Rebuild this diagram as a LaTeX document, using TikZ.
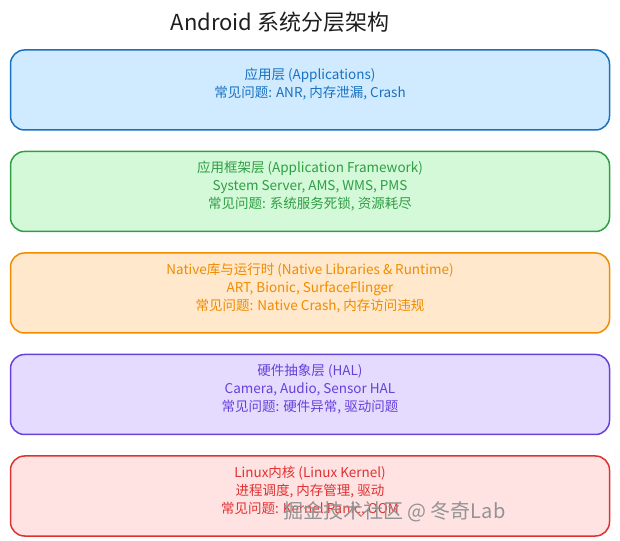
\documentclass[tikz,border=0pt]{standalone}
\usepackage{fontspec}
\setmainfont{Noto Sans CJK SC}
\usetikzlibrary{positioning}
\definecolor{appline}{HTML}{1971C2}\definecolor{appfill}{HTML}{D0EBFF}
\definecolor{fwline}{HTML}{2F9E44}\definecolor{fwfill}{HTML}{D3F9D8}
\definecolor{natline}{HTML}{F08C00}\definecolor{natfill}{HTML}{FFE8CC}
\definecolor{halline}{HTML}{6741D9}\definecolor{halfill}{HTML}{E5DBFF}
\definecolor{krnline}{HTML}{E03131}\definecolor{krnfill}{HTML}{FFE3E3}
\definecolor{ink}{HTML}{1E1E1E}

\begin{document}
\begin{tikzpicture}[x=1pt,y=1pt,
	layer/.style={draw=#1line, fill=#1fill, line width=1.5pt,
		rounded corners=14pt, minimum width=599pt, minimum height=80pt},
	info/.style={text=#1line, align=center, font=\fontsize{13.5}{18}\selectfont},
	title/.style={text=ink, font=\fontsize{22}{26}\selectfont}]
	\useasboundingbox (0,0) rectangle (620,540);
	\node[title] (t) at (280,518) {Android 系统分层架构};
	\node[layer=app] (app) at (310,450) {};
	\node[layer=fw, below=20pt of app] (fw) {};
	\node[layer=nat, below=20pt of fw] (nat) {};
	\node[layer=hal, below=20pt of nat] (hal) {};
	\node[layer=krn, below=20pt of hal] (krn) {};
	\node[info=app] (appt) at ([yshift=6pt]app.center) {应用层 (Applications)\\常见问题: ANR, 内存泄漏, Crash};
	\node[info=fw] (fwt) at ([yshift=5pt]fw.center) {应用框架层 (Application Framework)\\System Server, AMS, WMS, PMS\\常见问题: 系统服务死锁, 资源耗尽};
	\node[info=nat] (natt) at ([yshift=5pt]nat.center) {Native库与运行时 (Native Libraries \& Runtime)\\ART, Bionic, SurfaceFlinger\\常见问题: Native Crash, 内存访问违规};
	\node[info=hal] (halt) at ([yshift=5pt]hal.center) {硬件抽象层 (HAL)\\Camera, Audio, Sensor HAL\\常见问题: 硬件异常, 驱动问题};
	\node[info=krn] (krnt) at ([yshift=5pt]krn.center) {Linux内核 (Linux Kernel)\\进程调度, 内存管理, 驱动\\常见问题: Kernel Panic, OOM};
	% watermark
	\node[anchor=east, text=gray!85, font=\fontsize{20}{24}\selectfont] (wm) at (509,28) {掘金技术社区 @ 冬奇Lab};
\end{tikzpicture}
\end{document}
